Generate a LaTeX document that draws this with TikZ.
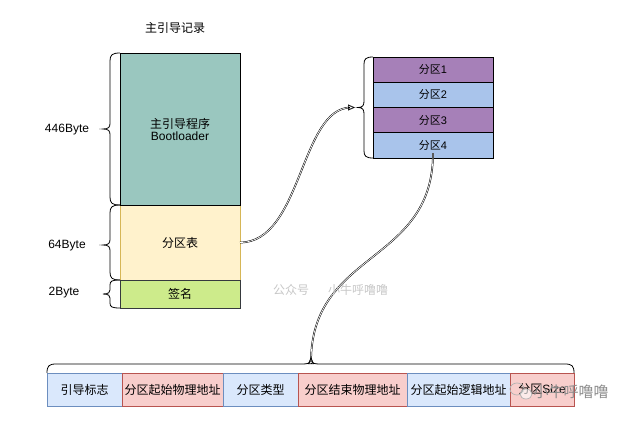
\documentclass[tikz,border=0pt]{standalone}
\usepackage{fontspec}
\setmainfont{Liberation Sans}
\newfontfamily\cjk{Noto Sans CJK SC}
\usetikzlibrary{arrows.meta}
\definecolor{mbrfill}{HTML}{9AC7BF}
\definecolor{ptfill}{HTML}{FFF2CC}
\definecolor{ptdraw}{HTML}{D6B656}
\definecolor{sigfill}{HTML}{CDEB8B}
\definecolor{sigdraw}{HTML}{36393D}
\definecolor{purp}{HTML}{A680B8}
\definecolor{lblue}{HTML}{A9C4EB}
\definecolor{bfill}{HTML}{DAE8FC}
\definecolor{bdraw}{HTML}{6C8EBF}
\definecolor{rfill}{HTML}{F8CECC}
\definecolor{rdraw}{HTML}{B85450}
\tikzset{
  box/.style={rectangle, inner sep=0pt, outer sep=0pt, line width=0.8pt, font=\fontsize{12}{14}\selectfont, align=center},
  prow/.style={box, minimum width=120pt, minimum height=25.25pt, draw=black, font=\fontsize{11}{13}\selectfont},
  brow/.style={box, minimum height=33pt},
  bluebox/.style={brow, fill=bfill, draw=bdraw},
  redbox/.style={brow, fill=rfill, draw=rdraw},
  lbl/.style={inner sep=0pt, font=\fontsize{12}{14}\selectfont},
  bracepath/.style={line width=0.8pt},
  conn/.style={line width=0.5pt, double=white, double distance=0.7pt},
  tip/.style={-{Triangle[open, length=7pt, width=6pt]}, line width=0.7pt},
  wm/.style={inner sep=0pt, text=black!22, font=\fontsize{12}{14}\selectfont\cjk}
}
\begin{document}
\begin{tikzpicture}[x=1pt, y=-1pt]
\useasboundingbox (0,0) rectangle (631,423);
% title
\node[lbl] (title) at (175,28) {\cjk 主引导记录};
% left column
\node[box, minimum width=120pt, minimum height=75pt, fill=ptfill, draw=ptdraw] (pt) at (180,242.5) {\cjk 分区表};
\node[box, minimum width=120pt, minimum height=152pt, fill=mbrfill, draw=black] (mbr) at (180,129) {{\cjk 主引导程序}\\[-2pt]Bootloader};
\node[box, minimum width=120pt, minimum height=28pt, fill=sigfill, draw=sigdraw] (sig) at (180,294) {\cjk 签名};
% byte labels
\node[lbl] (l446) at (67,130) {446Byte};
\node[lbl] (l64) at (67,246) {64Byte};
\node[lbl] (l2) at (64,293) {2Byte};
% left braces
\draw[bracepath] (120,53) .. controls (112,53) and (110,55) .. (110,61) -- (110,123) .. controls (110,127) and (109,129) .. (103,129) .. controls (109,129) and (110,131) .. (110,135) -- (110,197) .. controls (110,203) and (112,205) .. (120,205);
\draw[bracepath] (120,205) .. controls (112,205) and (110,207) .. (110,213) -- (110,239) .. controls (110,243) and (109,245) .. (103,245) .. controls (109,245) and (110,247) .. (110,251) -- (110,272) .. controls (110,278) and (112,280) .. (120,280);
\draw[bracepath] (120,280) .. controls (112,280) and (110,281) .. (110,285) -- (110,290) .. controls (110,292) and (109,294) .. (103,294) .. controls (109,294) and (110,296) .. (110,298) -- (110,303) .. controls (110,307) and (112,308) .. (120,308);
% partition rows
\node[prow, fill=purp] (p1) at (433,69.6) {{\cjk 分区}1};
\node[prow, fill=lblue] (p2) at (433,94.9) {{\cjk 分区}2};
\node[prow, fill=purp] (p3) at (433,120.1) {{\cjk 分区}3};
\node[prow, fill=lblue] (p4) at (433,145.4) {{\cjk 分区}4};
% right brace
\draw[bracepath] (373,57) .. controls (366,57) and (364,59) .. (364,64) -- (364,101) .. controls (364,105) and (363,107.5) .. (358,107.5) .. controls (363,107.5) and (364,110) .. (364,114) -- (364,151) .. controls (364,156) and (366,158) .. (373,158);
\coordinate (ptip) at (355,107.5);
% bottom row
\node[bluebox, minimum width=75pt] (b1) at (84.5,389.5) {\cjk 引导标志};
\node[redbox, minimum width=101pt] (b2) at (172.5,389.5) {\cjk 分区起始物理地址};
\node[bluebox, minimum width=75pt] (b3) at (260.5,389.5) {\cjk 分区类型};
\node[redbox, minimum width=109pt] (b4) at (352.5,389.5) {\cjk 分区结束物理地址};
\node[bluebox, minimum width=103pt] (b5) at (458.5,389.5) {\cjk 分区起始逻辑地址};
\node[redbox, minimum width=64pt] (b6) at (542,389.5) {{\cjk 分区}Size};
% bottom brace
\draw[bracepath] (47,373) .. controls (47,366) and (49,364) .. (56,364) -- (303,364) .. controls (308,364) and (311,363) .. (311,359) .. controls (311,363) and (314,364) .. (319,364) -- (565,364) .. controls (572,364) and (574,366) .. (574,373);
\coordinate (btip) at (311,357);
% connectors
\draw[conn] (pt.east) .. controls (302,242.5) and (300,107.5) .. ([xshift=-4pt]ptip);
\draw[tip] ([xshift=-5pt]ptip) -- (ptip);
\coordinate (p4b) at ([yshift=5pt]p4.south);
\draw[conn] (p4b) .. controls (433,265) and (311,250) .. ([yshift=-5pt]btip);
\draw[tip] ([yshift=-6pt]btip) -- (btip);
% watermarks
\node[wm] (wm1) at (291,290) {公众号};
\node[wm] (wm2) at (358,290) {小牛呼噜噜};
\draw[black!30, line width=0.7pt] (517,389) ellipse (7pt and 6pt);
\draw[black!30, line width=0.7pt, fill=white, fill opacity=0.6] (526,394) ellipse (6pt and 5pt);
\node[inner sep=0pt, text=black!45, font=\fontsize{15}{17}\selectfont\cjk] (wm3) at (571,392) {小牛呼噜噜};
\end{tikzpicture}
\end{document}
